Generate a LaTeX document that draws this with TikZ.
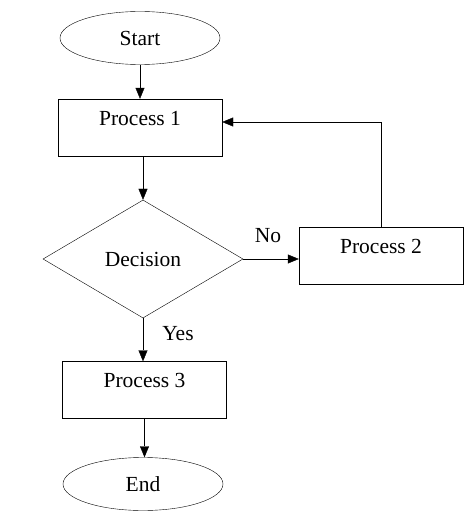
\documentclass[tikz,border=0pt]{standalone}
\usepackage{fontspec}
\setmainfont{Liberation Serif}
\usetikzlibrary{arrows.meta,positioning,shapes.geometric}
\tikzset{
	->, % every connector is directed
	>={Triangle[length=11pt,width=9pt]}, % filled heads
	line width=1.2pt,
	every node/.style={font=\fontsize{21.5}{25}\selectfont},
	terminal/.style={draw, ellipse, inner sep=0pt, minimum width=160pt, minimum height=53pt},
	process/.style={draw, rectangle, inner sep=0pt, minimum width=164pt, text height=26pt, text depth=31pt},
	decision/.style={draw, diamond, inner sep=0pt, aspect=1.7, minimum width=200pt, minimum height=118pt},
}

\begin{document}
\begin{tikzpicture}[x=1pt, y=-1pt]
	\useasboundingbox (0,0) rectangle (474,519);
	\node[terminal] (start) at (140,38) {Start};
	\node[process] (p1) at (140,127.5) {Process 1};
	\node[decision] (dec) at (143,259) {Decision};
	\node[process] (p2) at (381,256) {Process 2};
	\node[process] (p3) at (144.5,390) {Process 3};
	\node[terminal] (end) at (143,484) {End};
	\node (no) at (268,236) {No};
	\node (yes) at (178,334) {Yes};

	\draw (start) -- (p1);
	\draw (p1.south -| dec.north) -- (dec);
	\draw (dec.east) -- (p2.west |- dec.east);
	\draw (p2.north) |- ([yshift=5.5pt]p1.east);
	\draw (dec.south) -- (p3.north -| dec.south);
	\draw (p3.south) -- (p3.south |- end.north);
\end{tikzpicture}
\end{document}
